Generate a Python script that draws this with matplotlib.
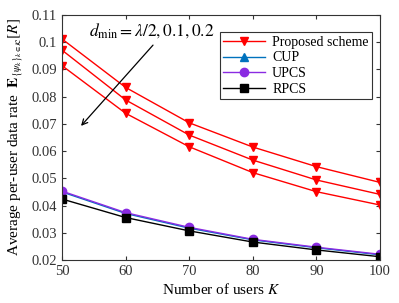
import matplotlib
matplotlib.use("Agg")
import matplotlib.pyplot as plt

plt.rcParams['font.family'] = ['Liberation Serif', 'DejaVu Serif']
plt.rcParams['mathtext.fontset'] = 'stix'

# number of users
users = [50, 60, 70, 80, 90, 100]

# proposed scheme, three d_min values
prop_a = [0.1012, 0.0834, 0.0704, 0.0615, 0.0543, 0.0485]
prop_b = [0.0971, 0.0788, 0.0659, 0.0567, 0.0494, 0.0441]
prop_c = [0.0914, 0.0739, 0.0616, 0.0521, 0.0451, 0.0402]

cup = [0.0450, 0.0371, 0.0317, 0.0274, 0.0245, 0.0219]
upcs = [0.0453, 0.0374, 0.0320, 0.0276, 0.0247, 0.0221]
rpcs = [0.0424, 0.0356, 0.0307, 0.0266, 0.0237, 0.0212]

yticks = [0.02, 0.03, 0.04, 0.05, 0.06, 0.07, 0.08, 0.09, 0.1, 0.11]
ytick_labels = ['0.02', '0.03', '0.04', '0.05', '0.06', '0.07', '0.08', '0.09', '0.1', '0.11']

fig = plt.figure(figsize=(3.99, 3.03), dpi=100)
ax = fig.add_axes([62/399, 1 - 260/303, 318/399, 245/303])

red = '#ff0000'
ms = 6
ax.plot(users, prop_a, color=red, marker='v', ms=ms, lw=1, label='Proposed scheme')
ax.plot(users, prop_b, color=red, marker='v', ms=ms, lw=1)
ax.plot(users, prop_c, color=red, marker='v', ms=ms, lw=1)
ax.plot(users, cup, color='#0072bd', marker='^', ms=ms, lw=1, label='CUP')
ax.plot(users, upcs, color='#8a2be2', marker='o', ms=ms, lw=1, label='UPCS')
ax.plot(users, rpcs, color='black', marker='s', ms=ms - 0.5, lw=1, label='RPCS')

ax.set_xlim(50, 100)
ax.set_ylim(0.02, 0.11)
ax.set_xticks(users)
ax.set_yticks(yticks)
ax.set_yticklabels(ytick_labels)
ax.tick_params(direction='in', top=True, right=True, labelsize=10.5, colors='#333333',
               labelcolor='#333333', length=3)
for s in ax.spines.values():
    s.set_color('#333333')

ax.set_xlabel('Number of users $K$', fontsize=11, labelpad=3)
ax.set_ylabel(r'Average per-user data rate  $\mathbf{E}_{\{\psi_k\}_{k\in\mathcal{K}}}\left[R\right]$',
              fontsize=11, labelpad=4)

ax.annotate('', xy=(52.7, 0.0685), xytext=(64.6, 0.0997),
            arrowprops=dict(arrowstyle='->', color='black', lw=0.9))
ax.text(54.3, 0.1042, r'$d_{\min} = \lambda/2, 0.1, 0.2$', fontsize=12.5, va='center')

leg = ax.legend(loc='upper right', bbox_to_anchor=(0.975, 0.93), fontsize=10,
                frameon=True, fancybox=False, edgecolor='#333333', framealpha=1,
                borderpad=0.25, labelspacing=0.2, handlelength=3.0, handletextpad=0.5,
                borderaxespad=0)
leg.get_frame().set_linewidth(0.8)

fig.savefig('out.png', dpi=100)
